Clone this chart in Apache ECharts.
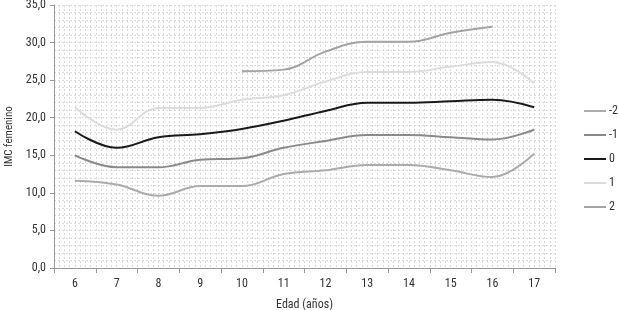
<!DOCTYPE html>
<html>
<head>
<meta charset="utf-8">
<script src="https://cdn.jsdelivr.net/npm/echarts@6/dist/echarts.min.js"></script>
<style>
  html, body { margin: 0; padding: 0; background: #fff; }
  #chart { width: 618px; height: 310px; }
</style>
</head>
<body>
<div id="chart"></div>
<script>
// edades (años)
let edades = ["6", "7", "8", "9", "10", "11", "12", "13", "14", "15", "16", "17"];
// IMC femenino por desviación
let dsMenos2 = [11.6, 11.1, 9.6, 10.9, 10.9, 12.5, 13.0, 13.7, 13.7, 13.0, 12.1, 15.2];
let dsMenos1 = [15.0, 13.4, 13.4, 14.4, 14.6, 16.0, 16.9, 17.7, 17.7, 17.4, 17.1, 18.4];
let ds0 = [18.2, 16.0, 17.4, 17.8, 18.5, 19.6, 20.9, 22.0, 22.0, 22.2, 22.4, 21.4];
let ds1 = [21.4, 18.4, 21.3, 21.3, 22.4, 23.0, 24.8, 26.1, 26.1, 26.8, 27.4, 24.6];
let ds2 = [null, null, null, null, 26.2, 26.4, 28.8, 30.1, 30.1, 31.3, 32.1, null];

let fuente = "'Roboto Condensed', 'DejaVu Sans Condensed', 'Liberation Sans Narrow', 'Liberation Sans', sans-serif";
let rejilla = { color: "#dadada", type: [2, 2], width: 1 };

let chart = echarts.init(document.getElementById("chart"));

function serie(name, data, color, width) {
  return {
    name: name,
    type: "line",
    data: data,
    smooth: 0.4,
    symbol: "none",
    connectNulls: false,
    lineStyle: { color: color, width: width },
    itemStyle: { color: color },
  };
}

let option = {
  animation: false,
  textStyle: { fontFamily: fuente },
  grid: { left: 54, right: 63, top: 5, bottom: 42, outerBoundsMode: "none", containLabel: false },
  legend: {
    orient: "vertical",
    left: 579,
    top: 100,
    icon: "rect",
    itemWidth: 22,
    itemHeight: 2,
    itemGap: 12,
    textStyle: { fontFamily: fuente, fontSize: 12, color: "#333", padding: [0, 0, 0, -2] },
    data: ["-2", "-1", "0", "1", "2"],
  },
  xAxis: [
    {
      type: "category",
      data: edades,
      boundaryGap: true,
      name: "Edad (años)",
      nameLocation: "middle",
      nameGap: 31,
      nameTextStyle: { fontFamily: fuente, fontSize: 12, color: "#333" },
      axisLine: { lineStyle: { color: "#999" } },
      axisTick: { show: true, length: 5, lineStyle: { color: "#999" } },
      axisLabel: { fontFamily: fuente, fontSize: 12, color: "#333", margin: 10 },
      splitLine: { show: false },
    },
    {
      // solo para la rejilla punteada
      type: "value",
      min: 0,
      max: 12,
      interval: 1,
      position: "top",
      axisLine: { show: false },
      axisTick: { show: false },
      axisLabel: { show: false },
      splitLine: { show: true, lineStyle: rejilla },
      minorTick: { show: false, splitNumber: 8 },
      minorSplitLine: { show: true, lineStyle: rejilla },
    },
  ],
  yAxis: {
    type: "value",
    min: 0,
    max: 35,
    interval: 5,
    name: "IMC femenino",
    nameLocation: "middle",
    nameGap: 37,
    nameTextStyle: { fontFamily: fuente, fontSize: 11, color: "#333" },
    axisLine: { show: true, lineStyle: { color: "#999" } },
    axisTick: { show: true, length: 4, lineStyle: { color: "#999" } },
    axisLabel: {
      fontFamily: fuente,
      fontSize: 12,
      color: "#333",
      margin: 8,
      formatter: function (v) {
        return v.toFixed(1).replace(".", ",");
      },
    },
    splitLine: { show: true, lineStyle: rejilla },
    minorTick: { show: false, splitNumber: 5 },
    minorSplitLine: { show: true, lineStyle: rejilla },
  },
  series: [
    serie("-2", dsMenos2, "#ababab", 2),
    serie("-1", dsMenos1, "#8a8a8a", 2),
    serie("0", ds0, "#1a1a1a", 2),
    serie("1", ds1, "#dcdcdc", 2),
    serie("2", ds2, "#a3a3a3", 2),
  ],
};
chart.setOption(option);
</script>
</body>
</html>
